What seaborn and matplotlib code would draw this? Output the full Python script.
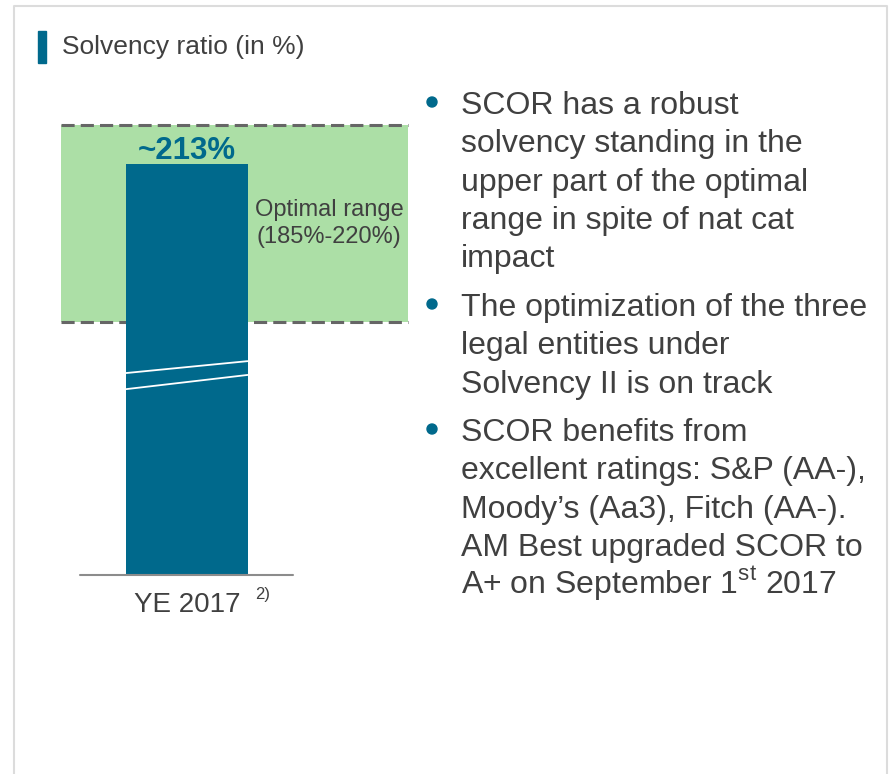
import matplotlib
matplotlib.use("Agg")
import matplotlib.pyplot as plt
import matplotlib.transforms as mtransforms
from matplotlib.patches import Rectangle, Circle
import seaborn as sns
import pandas as pd

# --- data ---
periods = ["YE 2017"]
solvency_ratio = [213]
bar_labels = ["~213%"]
optimal_range = [185, 220]
range_label = "Optimal range\n(185%-220%)"
footnote = "2)"
title = "Solvency ratio (in %)"
bullets = [
    ["SCOR has a robust", "solvency standing in the", "upper part of the optimal",
     "range in spite of nat cat", "impact"],
    ["The optimization of the three", "legal entities under", "Solvency II is on track"],
    ["SCOR benefits from", "excellent ratings: S&P (AA-),", "Moody\u2019s (Aa3), Fitch (AA-).",
     "AM Best upgraded SCOR to", r"A+ on September 1$^{\mathrm{st}}$ 2017"],
]

# --- style ---
teal = "#00698c"
green = "#acdfa6"
dash_grey = "#666666"
text_grey = "#404040"

sns.set_theme(style="white")
plt.rcParams["font.family"] = ["Liberation Sans", "DejaVu Sans"]
plt.rcParams["mathtext.fontset"] = "custom"
plt.rcParams["mathtext.rm"] = "Liberation Sans"

df = pd.DataFrame({"period": periods, "ratio": solvency_ratio})

fig = plt.figure(figsize=(8.9, 7.74), dpi=100)

# background layer in pixel coordinates (frame, title, bullet text)
bg = fig.add_axes([0, 0, 1, 1], zorder=0)
bg.set_xlim(0, 890)
bg.set_ylim(774, 0)
bg.axis("off")

bg.plot([14, 14, 887, 887], [780, 6, 6, 780], color="#dcdcdc", lw=1.5)
bg.add_patch(Rectangle((38, 31), 8, 32, color=teal))
bg.text(62, 47, title, fontsize=19, color=text_grey, va="center", ha="left")

para_start = [114, 316, 441]
line_step = 38.3
for lines, y0 in zip(bullets, para_start):
    bg.add_patch(Circle((432, y0 - 12), 5, color=teal))
    for i, line in enumerate(lines):
        bg.text(461, y0 + i * line_step, line, fontsize=23, color=text_grey,
                va="baseline", ha="left")

# --- chart ---
px_per_unit = 197 / (optimal_range[1] - optimal_range[0])
ax_top, ax_bottom = 115, 575
ylim = (optimal_range[0] - (ax_bottom - 322) / px_per_unit,
        optimal_range[1] + (125 - ax_top) / px_per_unit)

ax = fig.add_axes([61 / 890, (774 - ax_bottom) / 774, 347 / 890,
                   (ax_bottom - ax_top) / 774], zorder=1)
ax.patch.set_alpha(0)

sns.barplot(data=df, x="period", y="ratio", color=teal, saturation=1,
            width=0.8, linewidth=0, edgecolor="none", ax=ax)
bars = list(ax.patches)
for p in bars:
    p.set_zorder(3)

ax.axhspan(optimal_range[0], optimal_range[1], color=green, lw=0, zorder=0.5)
for v in optimal_range:
    ax.axhline(v, color=dash_grey, lw=2.2, dashes=(4.3, 2), zorder=1,
               clip_on=False)

ax.set_xlim(-0.826, 1.449)
ax.set_ylim(*ylim)
sns.despine(ax=ax, left=True, bottom=True)
ax.set_yticks([])
ax.set_xlabel("")
ax.set_ylabel("")
ax.tick_params(axis="x", length=0, pad=12, labelsize=20, labelcolor=text_grey)

# baseline under the bar
ax.axhline(ylim[0], xmin=19 / 347, xmax=232 / 347, color="#8c8c8c", lw=1.5,
           clip_on=False, zorder=4)

# value label
for p, lab in zip(bars, bar_labels):
    ax.annotate(lab, xy=(p.get_x() + p.get_width() / 2, p.get_height()),
                xytext=(0, 4), textcoords="offset points", ha="center",
                va="baseline", fontsize=22.5, fontweight="bold", color=teal)

# range label
ax.text(0.931, sum(optimal_range) / 2, range_label, ha="center", va="center",
        fontsize=17, color=text_grey, linespacing=1.3)

# axis break marks across the bar
trans = mtransforms.blended_transform_factory(ax.transData, ax.transAxes)
for p in bars:
    x0, x1 = p.get_x(), p.get_x() + p.get_width()
    for yl, yr in [(0.439, 0.465), (0.404, 0.435)]:
        ax.plot([x0, x1], [yl, yr], color="white", lw=1.3, transform=trans,
                zorder=5, solid_capstyle="butt")

# footnote marker next to the tick label
bg.text(255, 599, footnote, fontsize=12, color=text_grey, va="baseline",
        ha="left")

fig.savefig("out.png", dpi=100)
